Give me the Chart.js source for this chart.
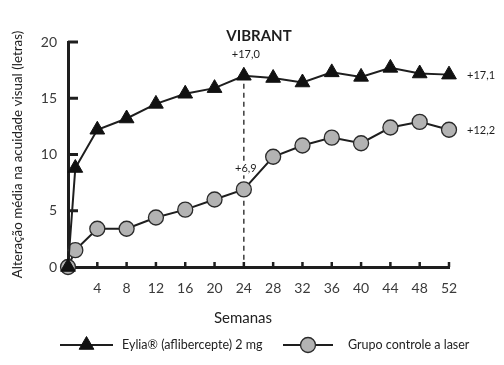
<!DOCTYPE html>
<html><head><meta charset="utf-8">
<script src="https://cdn.jsdelivr.net/npm/chart.js@4.4.0/dist/chart.umd.min.js"></script>
<style>html,body{margin:0;padding:0;background:#fff}#wrap{width:504px;height:365px}</style>
</head><body><div id="wrap"><canvas id="c" width="504" height="365"></canvas></div>
<script>
const weeks = [0, 1, 4, 8, 12, 16, 20, 24, 28, 32, 36, 40, 44, 48, 52];
const eylia = [0, 8.8, 12.2, 13.2, 14.5, 15.4, 15.9, 17.0, 16.8, 16.4, 17.3, 16.9, 17.7, 17.2, 17.1];
const laser = [0, 1.5, 3.4, 3.4, 4.4, 5.1, 6.0, 6.9, 9.8, 10.8, 11.5, 11.0, 12.4, 12.9, 12.2];
const seriesNames = ['Eylia\u00ae (aflibercepte) 2 mg', 'Grupo controle a laser'];
const annotations = [
  {week: 24, value: 17.0, text: '+17,0'},
  {week: 24, value: 6.9, text: '+6,9'},
  {week: 52, value: 17.1, text: '+17,1'},
  {week: 52, value: 12.2, text: '+12,2'}
];
const chartTitle = 'VIBRANT';
const xTitle = 'Semanas';
const yTitle = 'Altera\u00e7\u00e3o m\u00e9dia na acuidade visual (letras)';

const FONT = 'Lato, "Open Sans", sans-serif';
const INK = '#1e1e1e';

const extras = {
  id: 'extras',
  beforeDatasetsDraw(chart) {
    const ctx = chart.ctx, x = chart.scales.x, y = chart.scales.y;
    ctx.save();
    // dashed line at week 24
    ctx.strokeStyle = INK; ctx.lineWidth = 1.3; ctx.setLineDash([5, 4]);
    ctx.beginPath();
    ctx.moveTo(x.getPixelForValue(24), y.getPixelForValue(17.0) + 8);
    ctx.lineTo(x.getPixelForValue(24), y.getPixelForValue(0));
    ctx.stroke();
    ctx.setLineDash([]);
    // tick marks
    ctx.lineWidth = 3;
    [5, 10, 15, 20].forEach(v => {
      const py = y.getPixelForValue(v);
      ctx.beginPath(); ctx.moveTo(x.left, py); ctx.lineTo(x.left + 10, py); ctx.stroke();
    });
    ctx.lineWidth = 2.5;
    for (let w = 4; w <= 52; w += 4) {
      const px = x.getPixelForValue(w);
      ctx.beginPath(); ctx.moveTo(px, y.bottom); ctx.lineTo(px, y.bottom - 5); ctx.stroke();
    }
    // label backgrounds for week-24 annotations
    ctx.fillStyle = '#fff';
    ctx.fillRect(x.getPixelForValue(24) - 11, y.getPixelForValue(6.9) - 28, 24, 14);
    ctx.restore();
  },
  afterDraw(chart) {
    const ctx = chart.ctx, x = chart.scales.x, y = chart.scales.y;
    ctx.save();
    ctx.fillStyle = INK;
    ctx.textAlign = 'center'; ctx.textBaseline = 'middle';
    ctx.font = 'bold 15px ' + FONT;
    ctx.fillText(chartTitle, 259, 36);
    ctx.font = '11px ' + FONT;
    annotations.forEach((a, i) => {
      let px = x.getPixelForValue(a.week), py = y.getPixelForValue(a.value);
      if (a.week === 52) { ctx.textAlign = 'left'; ctx.fillText(a.text, px + 18, py + 1); }
      else { ctx.textAlign = 'center'; ctx.fillText(a.text, px + 2, py - 21); }
    });
    ctx.textAlign = 'center';
    ctx.font = '15px ' + FONT;
    ctx.fillStyle = '#222';
    ctx.fillText(xTitle, 243, 318);
    // legend
    const ds = chart.data.datasets;
    const items = [{x0: 60, x1: 113, tx: 122}, {x0: 283, x1: 333, tx: 348}];
    ctx.font = '12.5px ' + FONT;
    items.forEach((it, i) => {
      const d = ds[i];
      const cy = 345;
      ctx.strokeStyle = INK; ctx.lineWidth = 2;
      ctx.beginPath(); ctx.moveTo(it.x0, cy); ctx.lineTo(it.x1, cy); ctx.stroke();
      ctx.fillStyle = d.pointBackgroundColor; ctx.strokeStyle = d.pointBorderColor; ctx.lineWidth = d.pointBorderWidth;
      Chart.helpers.drawPoint(ctx, {pointStyle: d.pointStyle, radius: d.pointRadius, borderWidth: d.pointBorderWidth, rotation: 0}, (it.x0 + it.x1) / 2, cy);
      ctx.fillStyle = '#222'; ctx.textAlign = 'left';
      ctx.fillText(d.label, it.tx, cy);
    });
    ctx.restore();
  }
};

new Chart(document.getElementById('c'), {
  type: 'line',
  data: {
    labels: weeks,
    datasets: [
      {label: seriesNames[0], data: weeks.map((w, i) => ({x: w, y: eylia[i]})), clip: false,
       borderColor: INK, borderWidth: 2, pointStyle: 'triangle', pointRadius: 8.5,
       pointBackgroundColor: '#111', pointBorderColor: '#111', pointBorderWidth: 1, tension: 0},
      {label: seriesNames[1], data: weeks.map((w, i) => ({x: w, y: laser[i]})), clip: false,
       borderColor: INK, borderWidth: 2, pointStyle: 'circle', pointRadius: 7.5,
       pointBackgroundColor: '#b3b3b3', pointBorderColor: '#2a2a2a', pointBorderWidth: 1.3, tension: 0}
    ]
  },
  options: {
    responsive: false, animation: false, devicePixelRatio: 1,
    layout: {padding: {left: 0, right: 55, top: 42, bottom: 0}},
    plugins: {legend: {display: false}, tooltip: {enabled: false}},
    scales: {
      x: {type: 'linear', min: 0, max: 52,
          grid: {display: false, drawTicks: false},
          border: {display: true, color: INK, width: 3},
          ticks: {stepSize: 4, padding: 13, color: '#3a3a3a', font: {family: FONT, size: 14},
                  callback: v => v === 0 ? '' : String(v)},
          afterFit: s => { s.height = 98; }},
      y: {min: 0, max: 20,
          grid: {display: false, drawTicks: false},
          border: {display: true, color: INK, width: 3},
          ticks: {stepSize: 5, padding: 11, color: '#3a3a3a', font: {family: FONT, size: 14}},
          title: {display: true, text: yTitle, color: '#222', font: {family: FONT, size: 13.4}, padding: {top: 10, bottom: 0}},
          afterFit: s => { s.width = 68; }}
    }
  },
  plugins: [extras]
});
</script></body></html>
